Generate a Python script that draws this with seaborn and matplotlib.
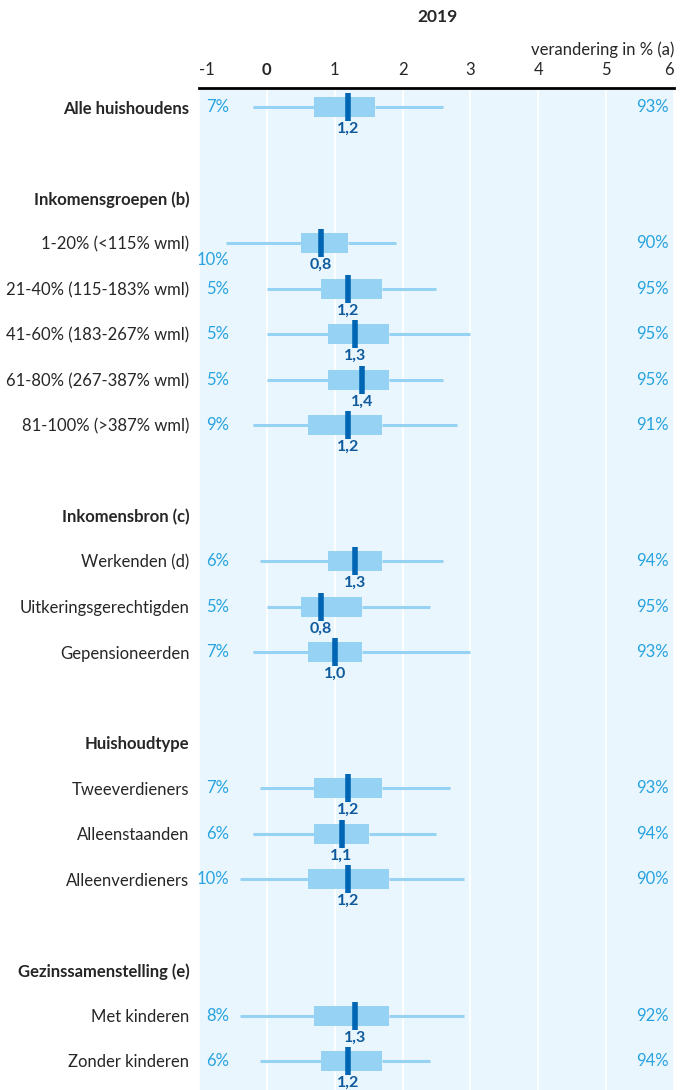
import pandas as pd
import matplotlib.pyplot as plt
import seaborn as sns

# Rows of the chart (blank strings are spacer slots, headers have no data)
order = ['Alle huishoudens', ' ', 'Inkomensgroepen (b)',
         '1-20% (<115% wml)', '21-40% (115-183% wml)', '41-60% (183-267% wml)',
         '61-80% (267-387% wml)', '81-100% (>387% wml)', '  ',
         'Inkomensbron (c)', 'Werkenden (d)', 'Uitkeringsgerechtigden',
         'Gepensioneerden', '   ', 'Huishoudtype', 'Tweeverdieners',
         'Alleenstaanden', 'Alleenverdieners', '    ',
         'Gezinssamenstelling (e)', 'Met kinderen', 'Zonder kinderen']
bold_rows = ['Alle huishoudens', 'Inkomensgroepen (b)', 'Inkomensbron (c)',
             'Huishoudtype', 'Gezinssamenstelling (e)']

groups = ['Alle huishoudens', '1-20% (<115% wml)', '21-40% (115-183% wml)',
          '41-60% (183-267% wml)', '61-80% (267-387% wml)', '81-100% (>387% wml)',
          'Werkenden (d)', 'Uitkeringsgerechtigden', 'Gepensioneerden',
          'Tweeverdieners', 'Alleenstaanden', 'Alleenverdieners',
          'Met kinderen', 'Zonder kinderen']
whisker_lo = [-0.2, -0.6, 0.0, 0.0, 0.0, -0.2, -0.1, 0.0, -0.2, -0.1, -0.2, -0.4, -0.4, -0.1]
box_lo = [0.7, 0.5, 0.8, 0.9, 0.9, 0.6, 0.9, 0.5, 0.6, 0.7, 0.7, 0.6, 0.7, 0.8]
median = [1.2, 0.8, 1.2, 1.3, 1.4, 1.2, 1.3, 0.8, 1.0, 1.2, 1.1, 1.2, 1.3, 1.2]
box_hi = [1.6, 1.2, 1.7, 1.8, 1.8, 1.7, 1.7, 1.4, 1.4, 1.7, 1.5, 1.8, 1.8, 1.7]
whisker_hi = [2.6, 1.9, 2.5, 3.0, 2.6, 2.8, 2.6, 2.4, 3.0, 2.7, 2.5, 2.9, 2.9, 2.4]
pct_down = [7, 10, 5, 5, 5, 9, 6, 5, 7, 7, 6, 10, 8, 6]
pct_up = [93, 90, 95, 95, 95, 91, 94, 95, 93, 93, 94, 90, 92, 94]

# Five values per row: with whis=(0, 100) they give exactly these box stats
rows = []
for i, g in enumerate(groups):
    for v in [whisker_lo[i], box_lo[i], median[i], box_hi[i], whisker_hi[i]]:
        rows.append({'groep': g, 'waarde': v})
df = pd.DataFrame(rows)

sns.set_style('white')
plt.rcParams['font.family'] = ['Lato', 'DejaVu Sans']

light = '#96D2F3'
dark = '#0066B3'
pct_col = '#27A3E0'

fig = plt.figure(figsize=(6.81, 10.9), dpi=100)
ax = fig.add_axes([199 / 681, 0.0, 475 / 681, 1 - 88 / 1090])
ax.set_facecolor('#EAF6FD')

sns.boxplot(data=df, x='waarde', y='groep', order=order, whis=(0, 100),
            width=0.44, showcaps=False, showfliers=False, color=light,
            saturation=1, linecolor=light, linewidth=2.2,
            boxprops=dict(edgecolor='none'),
            medianprops=dict(visible=False), ax=ax)

pos = [order.index(g) for g in groups]
sns.scatterplot(x=median, y=pos, marker='|', s=420, linewidth=4,
                color=dark, ax=ax, zorder=5, legend=False)

for i in range(len(groups)):
    ax.text(median[i], pos[i] + 0.48, f'{median[i]:.1f}'.replace('.', ','),
            ha='center', va='center', fontsize=11.5, fontweight='bold',
            color='#0F5A9C')
    dy = 0.37 if whisker_lo[i] < -0.5 else 0
    ax.text(-0.55, pos[i] + dy, f'{pct_down[i]}%', ha='right', va='center',
            fontsize=12, color=pct_col)
    ax.text(5.93, pos[i], f'{pct_up[i]}%', ha='right', va='center',
            fontsize=12, color=pct_col)

ax.set_xlim(-1, 6)
ax.set_ylim(21.64, -0.42)
ax.set_xticks(range(-1, 7))
ax.xaxis.tick_top()
ax.set_xticklabels([str(t) for t in range(-1, 7)], fontsize=12)
xt = ax.get_xticklabels()
xt[0].set_ha('left')
xt[1].set_fontweight('bold')
xt[-1].set_ha('right')
ax.tick_params(axis='x', length=0, pad=7)
ax.tick_params(axis='y', length=0, pad=7, labelsize=12)
for lab in ax.get_yticklabels():
    if lab.get_text() in bold_rows:
        lab.set_fontweight('bold')
ax.grid(axis='x', color='white', linewidth=1.3)
ax.set_axisbelow(True)
ax.set_xlabel('')
ax.set_ylabel('')
for s in ['left', 'right', 'bottom']:
    ax.spines[s].set_visible(False)
ax.spines['top'].set_linewidth(2)
ax.spines['top'].set_color('black')

fig.text(437 / 681, 1 - 17 / 1090, '2019', ha='center', va='center',
         fontsize=12.5, fontweight='bold')
fig.text(674 / 681, 1 - 50 / 1090, 'verandering in % (a)', ha='right',
         va='center', fontsize=12)

fig.savefig('out.png', dpi=100)
